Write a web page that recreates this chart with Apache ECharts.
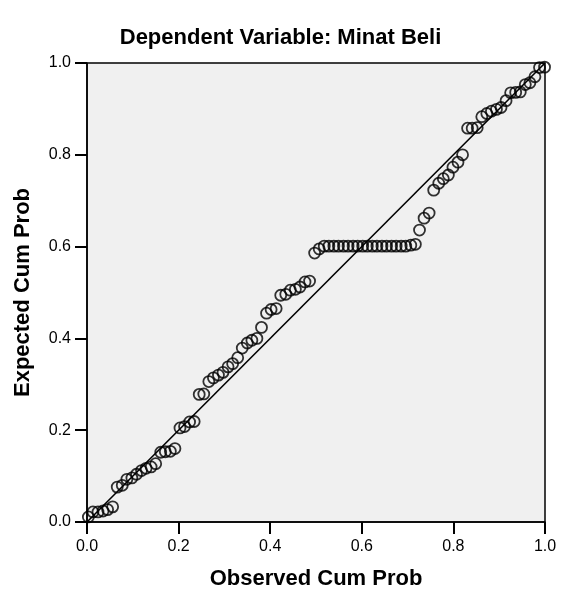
<!DOCTYPE html>
<html>
<head>
<meta charset="utf-8">
<script src="https://cdn.jsdelivr.net/npm/echarts@6/dist/echarts.min.js"></script>
<style>
  html, body { margin: 0; padding: 0; background: #fff; }
  #main { width: 561px; height: 600px; }
</style>
</head>
<body>
<div id="main"></div>
<script>
// observed cum prob (x) and expected cum prob (y)
var observed = [
  0.003, 0.013, 0.024, 0.035, 0.045, 0.056, 0.066, 0.077, 0.087, 0.098,
  0.108, 0.119, 0.129, 0.140, 0.150, 0.161, 0.171, 0.182, 0.192, 0.203,
  0.213, 0.224, 0.234, 0.245, 0.255, 0.266, 0.276, 0.287, 0.297, 0.308,
  0.318, 0.329, 0.339, 0.350, 0.360, 0.371, 0.381, 0.392, 0.402, 0.413,
  0.423, 0.434, 0.444, 0.455, 0.465, 0.476, 0.486, 0.497, 0.507, 0.518,
  0.528, 0.539, 0.549, 0.560, 0.570, 0.581, 0.591, 0.602, 0.612, 0.623,
  0.633, 0.644, 0.654, 0.665, 0.675, 0.686, 0.696, 0.707, 0.717,
  0.726, 0.736, 0.747, 0.757, 0.768, 0.778, 0.789, 0.799, 0.810, 0.820,
  0.831, 0.841, 0.852, 0.862, 0.873, 0.883, 0.894, 0.904, 0.915, 0.925,
  0.936, 0.946, 0.957, 0.967, 0.978, 0.988, 0.999
];
var expected = [
  0.011, 0.022, 0.022, 0.024, 0.027, 0.033, 0.076, 0.080, 0.093, 0.096,
  0.104, 0.112, 0.117, 0.120, 0.127, 0.152, 0.153, 0.154, 0.160, 0.205,
  0.208, 0.218, 0.219, 0.278, 0.279, 0.306, 0.314, 0.320, 0.326, 0.338,
  0.345, 0.358, 0.379, 0.390, 0.396, 0.400, 0.424, 0.455, 0.463, 0.465,
  0.494, 0.496, 0.505, 0.507, 0.512, 0.523, 0.525, 0.586, 0.595, 0.601,
  0.601, 0.601, 0.601, 0.601, 0.601, 0.601, 0.601, 0.601, 0.601, 0.601,
  0.601, 0.601, 0.601, 0.601, 0.601, 0.601, 0.601, 0.603, 0.605,
  0.636, 0.662, 0.673, 0.723, 0.738, 0.748, 0.756, 0.773, 0.784, 0.800,
  0.858, 0.858, 0.859, 0.883, 0.890, 0.895, 0.899, 0.903, 0.918, 0.935,
  0.936, 0.937, 0.953, 0.957, 0.970, 0.990, 0.991
];
// reference diagonal
var lineX = [0, 1];
var lineY = [0, 1];
var tickLabels = ['0.0', '0.2', '0.4', '0.6', '0.8', '1.0'];

var points = [];
for (var i = 0; i < observed.length; i++) {
  points.push([observed[i], expected[i]]);
}
var diag = [];
for (var j = 0; j < lineX.length; j++) {
  diag.push([lineX[j], lineY[j]]);
}

function fmt(v) {
  return tickLabels[Math.round(v * 5)] || v.toFixed(1);
}

var myChart = echarts.init(document.getElementById('main'));
var axisCommon = {
  type: 'value',
  min: 0,
  max: 1,
  interval: 0.2,
  nameLocation: 'middle',
  nameTextStyle: { fontFamily: 'Liberation Sans', fontWeight: 'bold', fontSize: 22, color: '#000' },
  axisLine: { show: true, lineStyle: { color: '#000', width: 1.5 } },
  axisTick: { show: true, inside: false, length: 12, lineStyle: { color: '#000', width: 2 } },
  axisLabel: { fontFamily: 'Liberation Sans', fontSize: 16, color: '#000', formatter: fmt },
  splitLine: { show: false }
};

var option = {
  backgroundColor: '#fff',
  animation: false,
  title: {
    text: 'Dependent Variable: Minat Beli',
    left: 'center',
    top: 22,
    textStyle: { fontFamily: 'Liberation Sans', fontWeight: 'bold', fontSize: 22, color: '#000' }
  },
  grid: {
    left: 87,
    top: 63,
    width: 458,
    height: 459,
    show: true,
    backgroundColor: '#f0f0f0',
    borderColor: '#000',
    borderWidth: 1.5
  },
  xAxis: Object.assign({}, axisCommon, {
    name: 'Observed Cum Prob',
    nameGap: 46,
    axisLabel: Object.assign({}, axisCommon.axisLabel, { margin: 17 })
  }),
  yAxis: Object.assign({}, axisCommon, {
    name: 'Expected Cum Prob',
    nameGap: 53,
    axisLabel: Object.assign({}, axisCommon.axisLabel, { margin: 16 })
  }),
  series: [
    {
      type: 'line',
      data: diag,
      symbol: 'none',
      lineStyle: { color: '#000', width: 1.6 },
      z: 2
    },
    {
      type: 'scatter',
      data: points,
      symbol: 'circle',
      symbolSize: 11,
      itemStyle: { color: 'rgba(0,0,0,0)', borderColor: '#000', borderWidth: 1.8 },
      z: 3
    }
  ]
};
myChart.setOption(option);
</script>
</body>
</html>
